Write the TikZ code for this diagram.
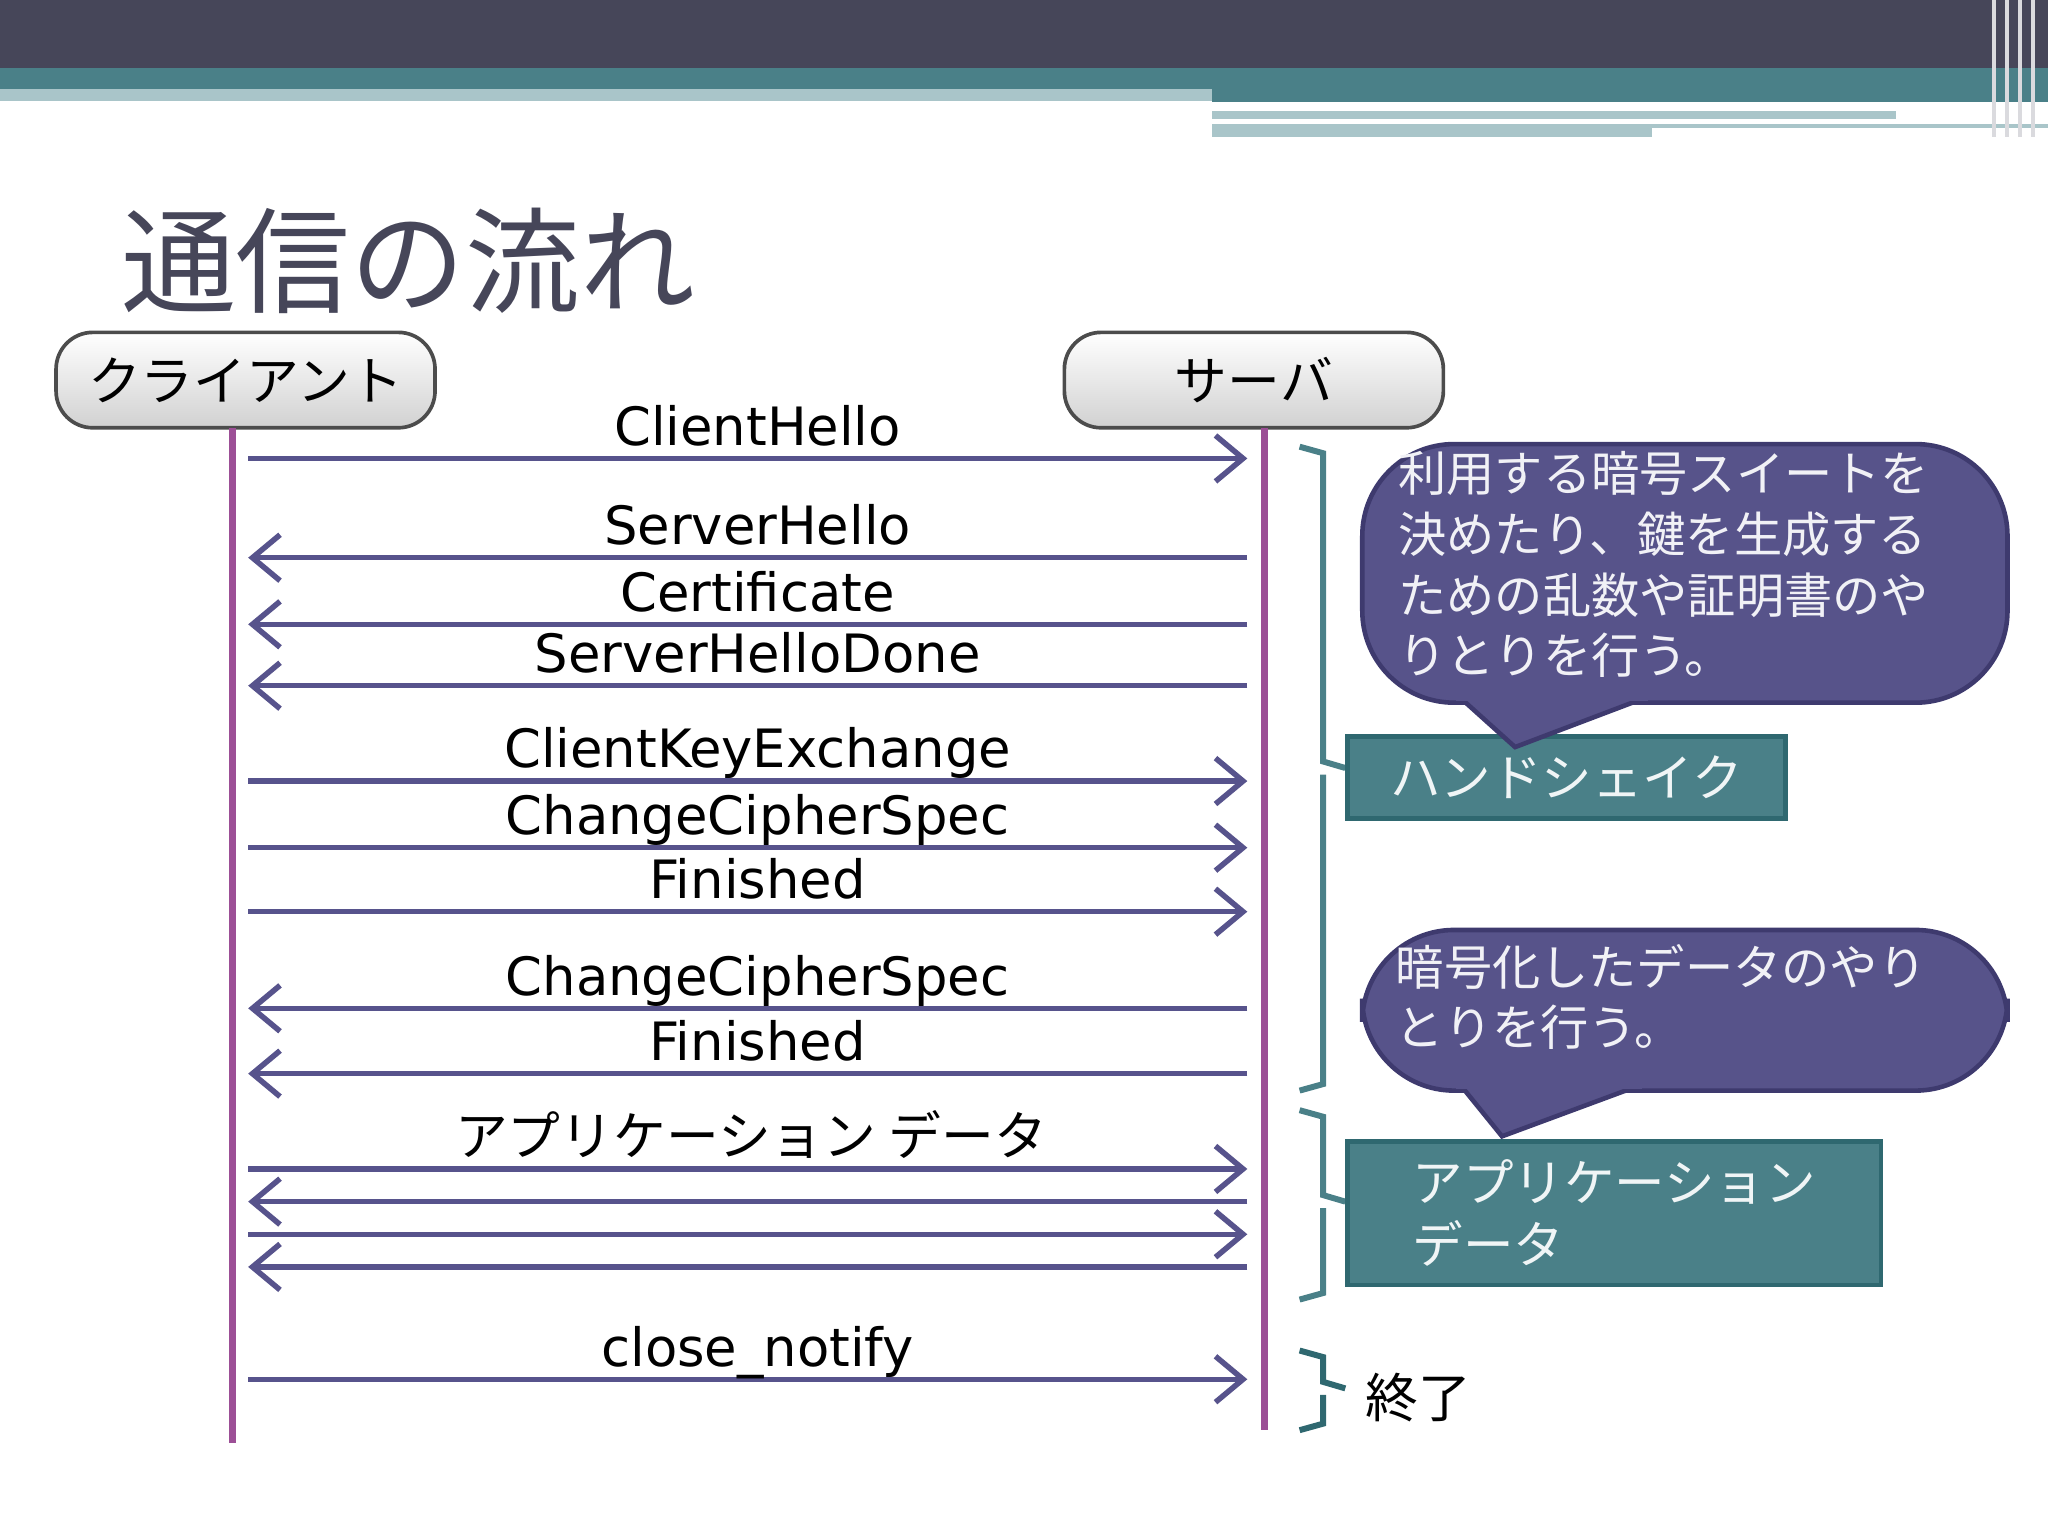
\documentclass[tikz,border=0pt]{standalone}
\usepackage{fontspec}
\setmainfont{DejaVu Sans}
\newfontfamily\jp{Noto Sans CJK JP}
\usetikzlibrary{arrows.meta}
\definecolor{topdark}{HTML}{464659}
\definecolor{teal}{HTML}{4A8088}
\definecolor{tealdk}{HTML}{2F6870}
\definecolor{lightteal}{HTML}{A9C5C9}
\definecolor{life}{HTML}{9C4F96}
\definecolor{arr}{HTML}{57538C}
\definecolor{callout}{HTML}{57538A}
\definecolor{calloutdk}{HTML}{3E3A6E}
\tikzset{
 msg/.style={draw=arr,line width=1.2pt,-{Straight Barb[length=6pt,width=10pt,line width=1.2pt]}},
 lbl/.style={anchor=base,inner sep=0pt,font=\fontsize{11.5}{13}\selectfont},
 hdr/.style={draw=black!70,line width=0.8pt,rounded corners=8pt,top color=white,bottom color=black!18,minimum width=2.9cm,minimum height=0.73cm,font=\jp\fontsize{11.5}{13}\selectfont},
 brace/.style={draw=teal,line width=1.3pt},
 tbox/.style={draw=tealdk,line width=1pt,fill=teal,text=white!92!teal,font=\jp\fontsize{11}{13.5}\selectfont,anchor=north west,align=left,inner sep=4pt},
 cbox/.style={fill=callout,draw=calloutdk,line width=1pt,rounded corners=20pt},
 ctext/.style={text=white!92!callout,font=\jp\fontsize{10.5}{13.2}\selectfont,anchor=north west,align=left,inner sep=0pt}
}
\begin{document}
\begin{tikzpicture}[x=0.01cm,y=-0.01cm]
\useasboundingbox (0,0) rectangle (1568,1176);
% top bars
\fill[topdark] (0,0) rectangle (1568,52);
\fill[teal] (0,52) rectangle (1568,68);
\fill[lightteal] (0,68) rectangle (928,77);
\fill[teal] (928,68) rectangle (1568,78);
\fill[lightteal] (928,85) rectangle (1452,91);
\fill[lightteal] (928,95) rectangle (1568,105);
\fill[white] (1265,98) rectangle (1568,105);
\foreach \x in {1525,1535,1545,1555} \fill[white!80!topdark] (\x,0) rectangle (\x+3,105);
% title
\node[anchor=west,text=topdark,font=\jp\fontsize{25}{30}\selectfont,inner sep=0pt] (title) at (92,200) {通信の流れ};
% headers
\node[hdr] (client) at (188,291) {クライアント};
\node[hdr] (server) at (960,291) {サーバ};
\draw[life,line width=1.5pt] (178,328) coordinate (c0) -- (178,1105) coordinate (c1);
\draw[life,line width=1.5pt] (968,328) coordinate (s0) -- (968,1095) coordinate (s1);
% messages
\foreach \y/\d/\t in {351/R/ClientHello,427/L/ServerHello,478/L/Certificate,525/L/ServerHelloDone,598/R/ClientKeyExchange,649/R/ChangeCipherSpec,698/R/Finished,772/L/ChangeCipherSpec,822/L/Finished,895/R/,920/L/,945/R/,970/L/,1056/R/close\_notify}{
 \coordinate (a\y) at (190,\y); \coordinate (b\y) at (955,\y);
 \if R\d \draw[msg] (a\y) -- (b\y); \else \draw[msg] (b\y) -- (a\y); \fi
 \node[lbl] (t\y) at (580,\y-10) {\t};
}
\node[lbl,font=\jp\fontsize{11.5}{13}\selectfont] (appl) at (575,885) {アプリケーション データ};
% braces
\draw[brace] (995,342) -- (1013,347) -- (1013,583) -- (1030,588) (1013,593) -- (1013,830) -- (995,835);
\draw[brace] (995,850) -- (1013,855) -- (1013,915) -- (1030,920) (1013,925) -- (1013,990) -- (995,995);
\draw[draw=tealdk,line width=1.3pt] (995,1034) -- (1013,1039) -- (1013,1058) -- (1030,1063) (1013,1068) -- (1013,1090) -- (995,1095);
\node[tbox,minimum width=3.35cm,minimum height=0.63cm] (hs) at (1030,562) {ハンドシェイク};
\node[tbox,minimum width=4.08cm,minimum height=1.1cm,anchor=north west] (ad) at (1030,872) {アプリケーション\\データ};
% callouts
\draw[cbox] (1043,340) rectangle (1537,538);
\filldraw[fill=callout,draw=calloutdk,line width=1pt] (1120,536) -- (1160,572) -- (1255,536);
\fill[callout] (1115,528) rectangle (1262,537);
\node[ctext] (c1t) at (1070,345) {利用する暗号スイートを\\決めたり、鍵を生成する\\ための乱数や証明書のや\\りとりを行う。};
\draw[cbox] (1043,712) rectangle (1537,835);
\filldraw[fill=callout,draw=calloutdk,line width=1pt] (1120,833) -- (1150,870) -- (1250,833);
\fill[callout] (1115,825) rectangle (1257,834);
\node[ctext] (c2t) at (1068,722) {暗号化したデータのやり\\とりを行う。};
\node[anchor=west,inner sep=0pt,font=\jp\fontsize{11.5}{13}\selectfont] (end) at (1045,1070) {終了};
\end{tikzpicture}
\end{document}
